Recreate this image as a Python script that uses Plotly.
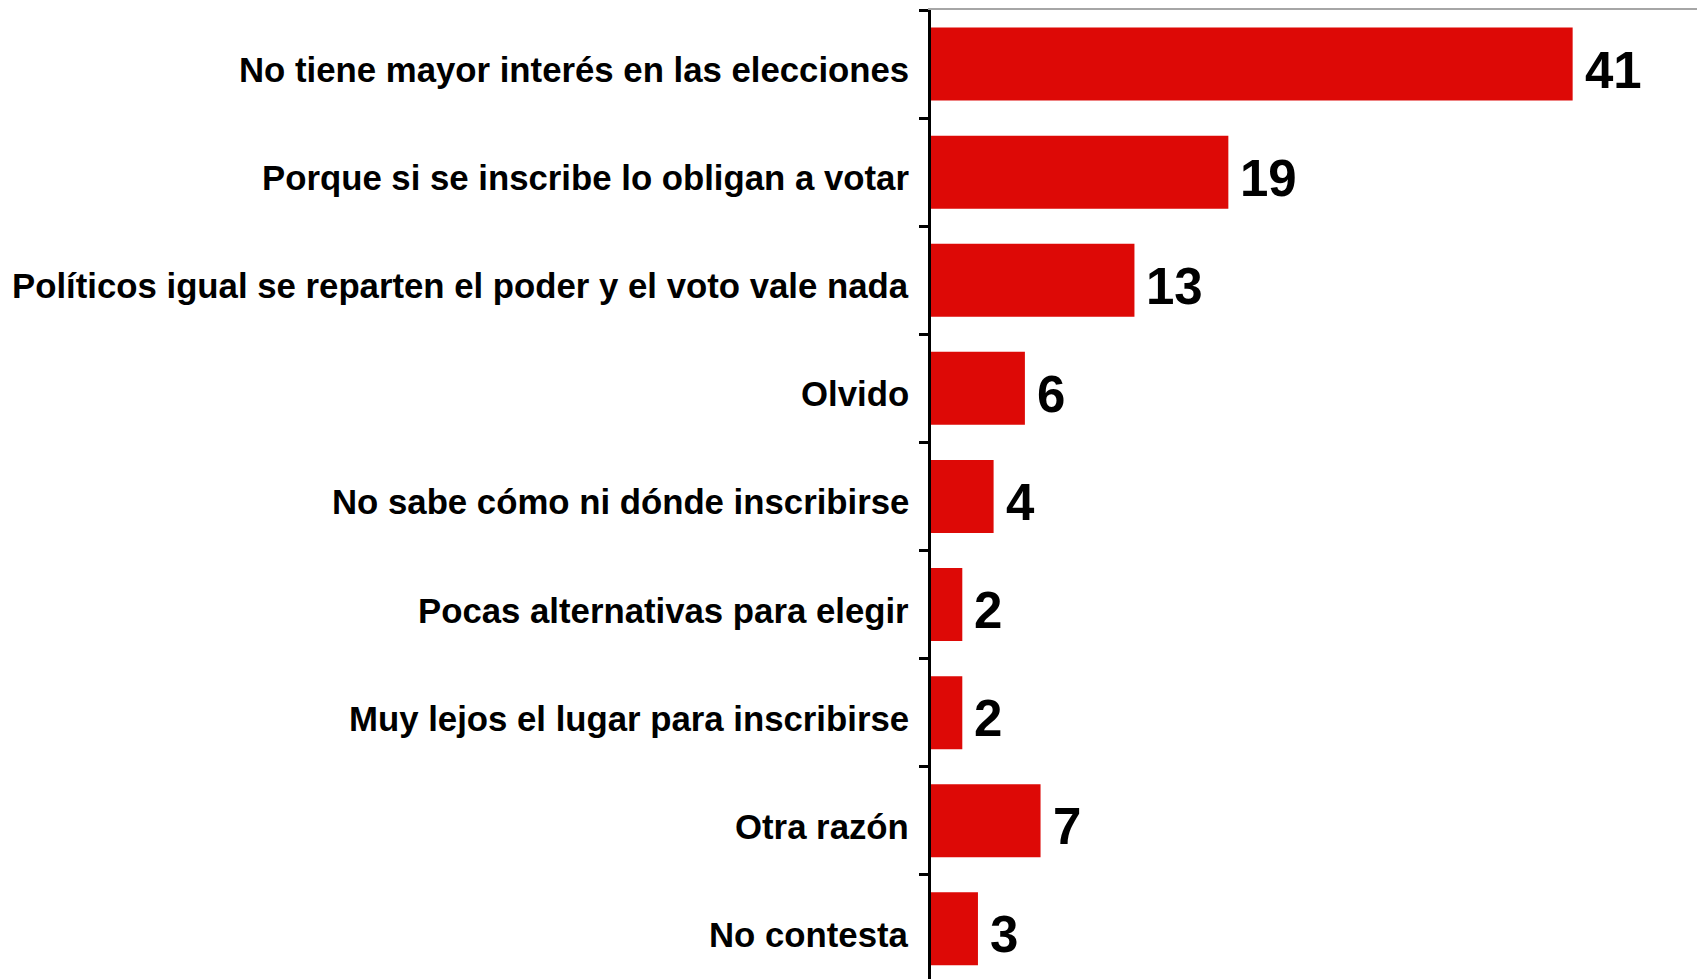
import plotly.graph_objects as go

categories = [
    "No tiene mayor interés en las elecciones",
    "Porque si se inscribe lo obligan a votar",
    "Políticos igual se reparten el poder y el voto vale nada",
    "Olvido",
    "No sabe cómo ni dónde inscribirse",
    "Pocas alternativas para elegir",
    "Muy lejos el lugar para inscribirse",
    "Otra razón",
    "No contesta",
]
values = [41, 19, 13, 6, 4, 2, 2, 7, 3]

# page body has an 8px default margin; size the figure so it fits the window
W, H = 1697, 971
left, top = 923, 2
cat_px = 108.1
px_per_unit = 15.65
n_vis = (H - top) / cat_px

FONT = "Liberation Sans"

fig = go.Figure()
fig.add_trace(go.Bar(
    x=values,
    y=categories,
    orientation="h",
    marker=dict(color="#DD0906", line=dict(width=0)),
    width=0.675,
    hoverinfo="skip",
))

annotations = []
for c, v in zip(categories, values):
    annotations.append(dict(
        x=v, y=c, xref="x", yref="y",
        text=str(v), showarrow=False,
        xanchor="left", yanchor="middle",
        xshift=10, yshift=-6,
        font=dict(family=FONT, size=51, color="#000000", weight="bold"),
    ))
    annotations.append(dict(
        x=0, y=c, xref="paper", yref="y",
        text=c, showarrow=False,
        xanchor="right", yanchor="middle",
        xshift=-20, yshift=-6,
        font=dict(family=FONT, size=34.75, color="#000000", weight="bold"),
    ))

fig.update_layout(
    width=W, height=H,
    margin=dict(l=left, r=0, t=top, b=0, autoexpand=False),
    paper_bgcolor="white",
    plot_bgcolor="white",
    showlegend=False,
    annotations=annotations,
    xaxis=dict(
        range=[0, (W - left) / px_per_unit],
        showgrid=False, zeroline=False,
        showticklabels=False, ticks="",
        showline=True, linecolor="#A6A6A6", linewidth=2,
        side="top", fixedrange=True,
    ),
    yaxis=dict(
        type="category",
        categoryorder="array", categoryarray=categories,
        range=[-0.5 + n_vis, -0.5],
        showgrid=False, zeroline=False,
        showline=True, linecolor="#000000", linewidth=3,
        ticks="outside", ticklen=9, tickwidth=3, tickcolor="#000000",
        tickson="boundaries",
        showticklabels=False,
        automargin=False,
    ),
)

fig.write_html("out.html")
